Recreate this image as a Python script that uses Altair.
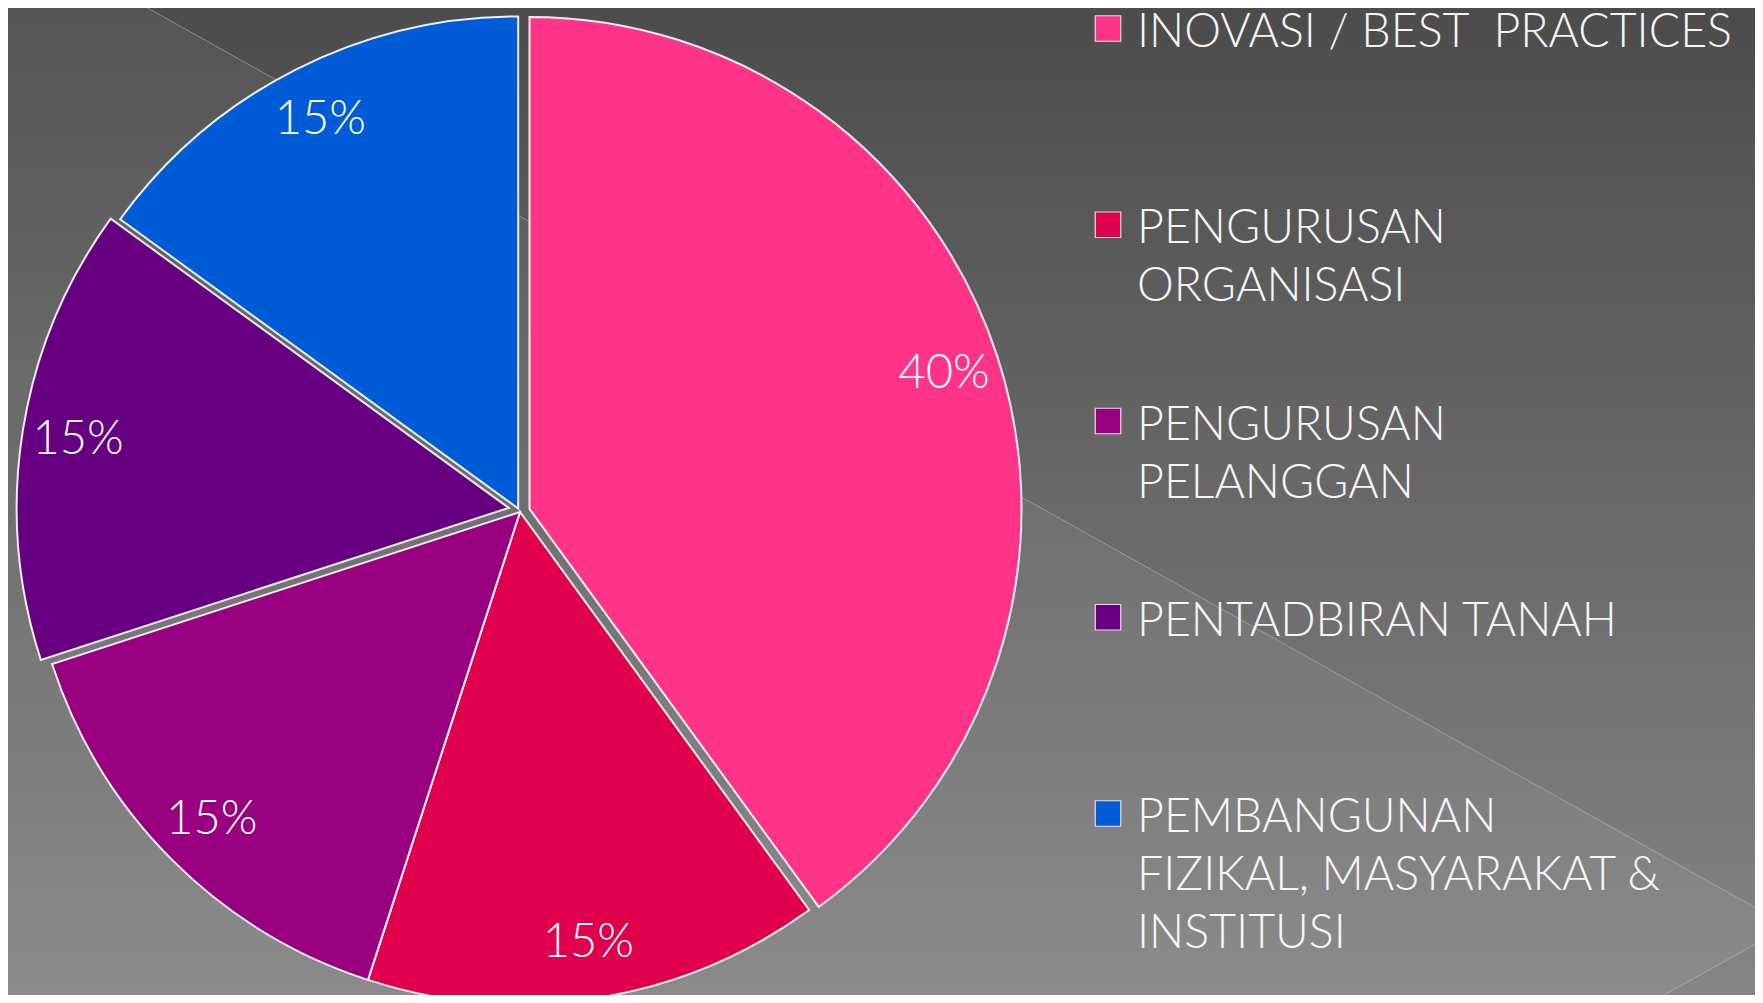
import math
import altair as alt
import pandas as pd

# ---- data ----
categories = [
    "INOVASI / BEST\u00a0\u00a0PRACTICES",
    "PENGURUSAN ORGANISASI",
    "PENGURUSAN PELANGGAN",
    "PENTADBIRAN TANAH",
    "PEMBANGUNAN FIZIKAL, MASYARAKAT & INSTITUSI",
]
legend_text = [
    "INOVASI / BEST\u00a0\u00a0PRACTICES",
    "PENGURUSAN\nORGANISASI",
    "PENGURUSAN\nPELANGGAN",
    "PENTADBIRAN TANAH",
    "PEMBANGUNAN\nFIZIKAL, MASYARAKAT &\nINSTITUSI",
]
values = [40, 15, 15, 15, 15]

# ---- style ----
colors = ["#FF3388", "#E0004D", "#990080", "#660080", "#005CD6"]
explode = [10, 0, 0, 12, 4]          # px offset of each slice
explode_dir = [0, 0, 0, 11, 0]       # degrees added to the slice bisector
W, H = 1747, 987
CX, CY, R = 512, 504, 492
LABEL_R = 436
FONT = "Lato"

df = pd.DataFrame({"cat": categories, "legend": legend_text, "value": values,
                   "idx": list(range(len(values)))})
df["end"] = df["value"].cumsum()
df["start"] = df["end"] - df["value"]
df["mid"] = (df["start"] + df["end"]) / 2
df["label"] = df["value"].astype(str) + "%"
total = float(df["value"].sum())

color_scale = alt.Scale(domain=categories, range=colors)
theta_scale = alt.Scale(domain=[0, total], range=[0, 2 * math.pi])
y_scale = alt.Scale(domain=[0, 4], range=[39, 824], zero=False, nice=False)

one = pd.DataFrame({"a": [0]})

bg = alt.Chart(one).mark_rect(
    color=alt.Gradient(
        gradient="linear",
        stops=[alt.GradientStop(offset=0, color="#4c4c4c"),
               alt.GradientStop(offset=1, color="#858585")],
        x1=0, x2=0, y1=0, y2=1,
    )
).encode(x=alt.value(0), x2=alt.value(W), y=alt.value(0), y2=alt.value(H))

chevron = alt.Chart(one).mark_point(
    shape="M-20,-20 L104,-20 L1780,918 L1615,1010 L-20,1010 Z",
    size=4, filled=True, fill="white", fillOpacity=0.05,
    stroke="#cfcfcf", strokeOpacity=0.45, strokeWidth=1, opacity=1,
).encode(x=alt.value(0), y=alt.value(0))

layers = [bg, chevron]
base = alt.Chart(df)
for i in range(len(values)):
    a = df["mid"][i] / total * 2 * math.pi + math.radians(explode_dir[i])
    dx = explode[i] * math.sin(a)
    dy = -explode[i] * math.cos(a)
    arc = base.transform_filter(alt.datum.idx == i).mark_arc(
        radius=R, stroke="#ffffff", strokeWidth=2, strokeOpacity=0.9
    ).encode(
        theta=alt.Theta("start:Q", scale=theta_scale),
        theta2="end:Q",
        color=alt.Color("cat:N", scale=color_scale, legend=None),
        x=alt.value(CX + dx), y=alt.value(CY + dy),
    )
    lab = base.transform_filter(alt.datum.idx == i).mark_text(
        radius=LABEL_R, font=FONT, fontSize=47, fontWeight=300, color="#ffffff",
        align="center", baseline="middle",
    ).encode(
        theta=alt.Theta("mid:Q", scale=theta_scale),
        text="label:N",
        x=alt.value(CX + dx), y=alt.value(CY + dy),
    )
    layers += [arc, lab]

marker = base.mark_point(
    shape="square", size=650, filled=True, opacity=1,
    stroke="#f3d6e6", strokeWidth=1.2, yOffset=-18.5,
).encode(
    x=alt.value(1100),
    y=alt.Y("idx:Q", scale=y_scale, axis=None),
    color=alt.Color("cat:N", scale=color_scale, legend=None),
)
legend_txt = base.mark_text(
    align="left", baseline="alphabetic", lineBreak="\n", lineHeight=58,
    font=FONT, fontSize=46.5, fontWeight=300, color="#f6f6f6",
).encode(
    x=alt.value(1129),
    y=alt.Y("idx:Q", scale=y_scale, axis=None),
    text="legend:N",
)
layers += [marker, legend_txt]

chart = alt.layer(*layers).properties(
    width=W, height=H,
    autosize=alt.AutoSizeParams(type="none"),
    padding=0,
    background="#4c4c4c",
).configure_view(strokeWidth=0)

chart.save("out.html", embed_options={"renderer": "svg", "actions": False})
